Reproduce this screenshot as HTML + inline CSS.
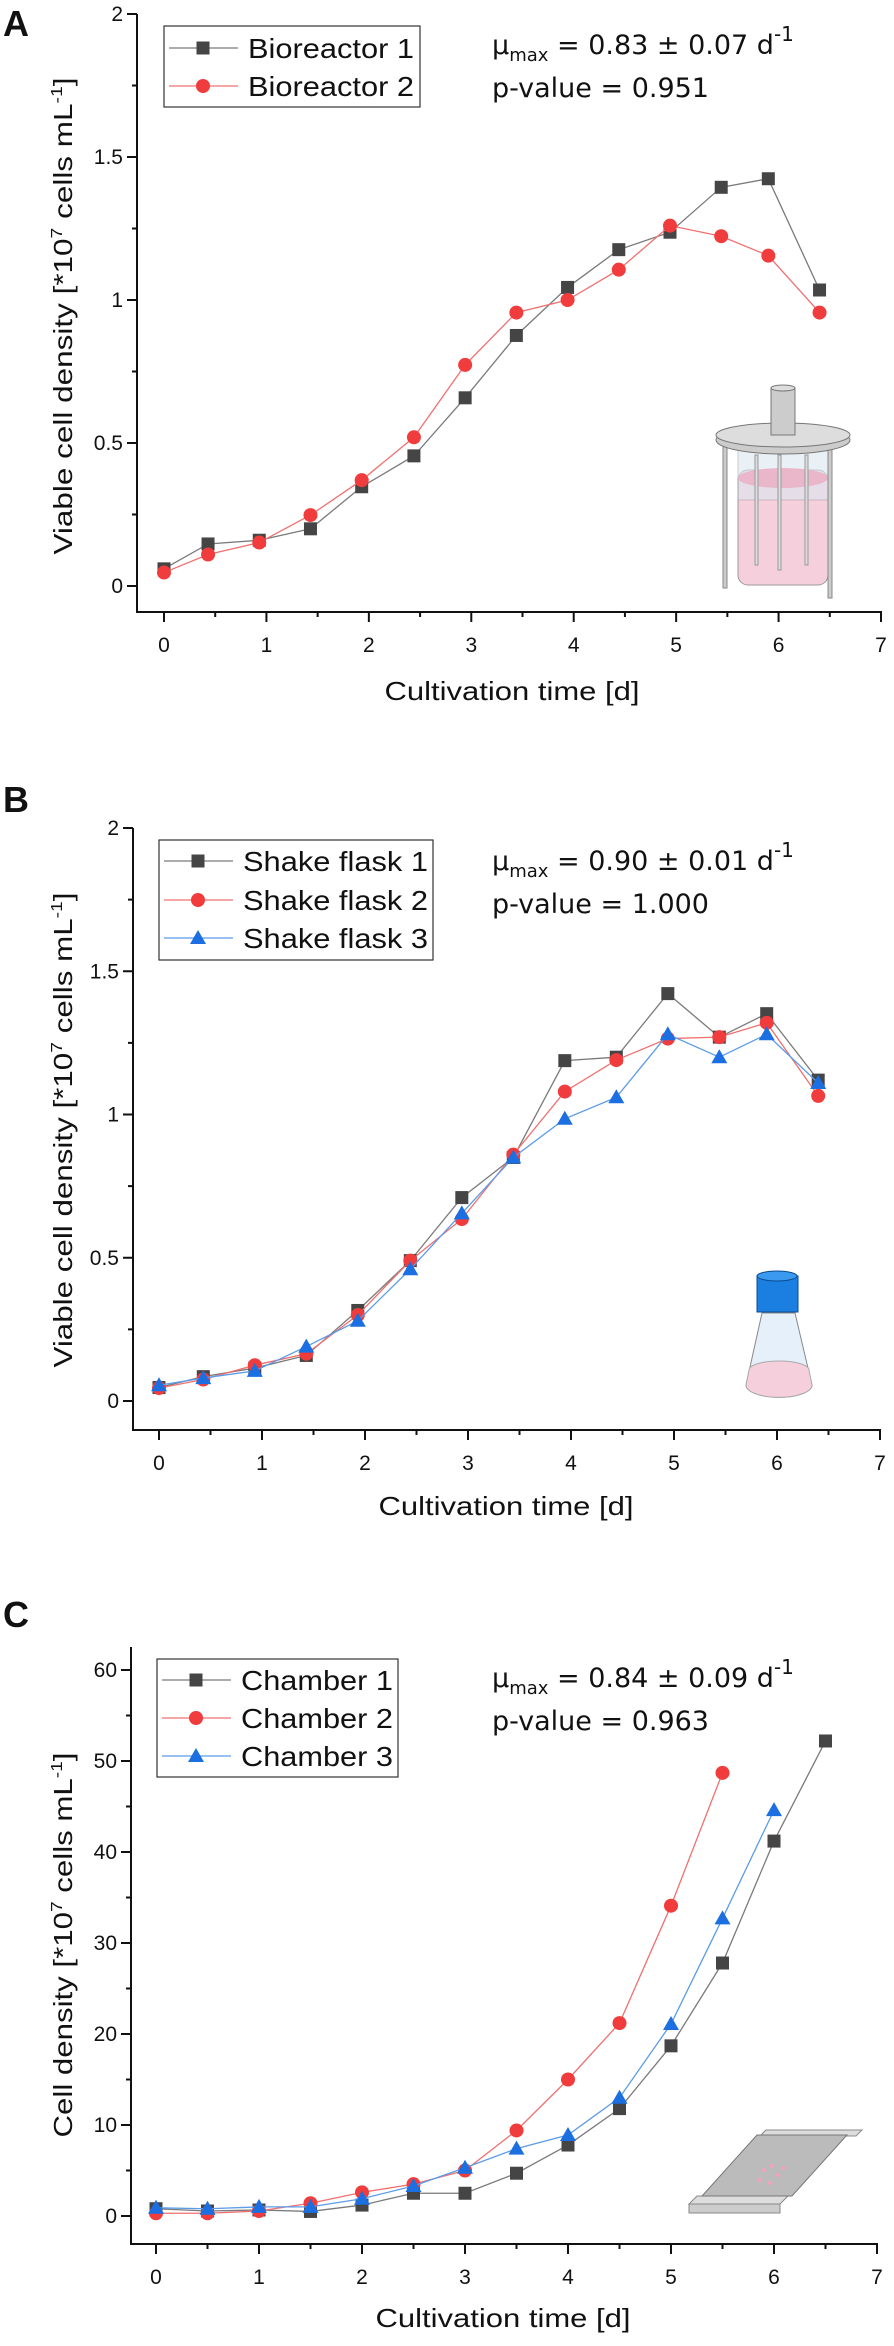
<!DOCTYPE html>
<html><head><meta charset="utf-8"><style>
html,body{margin:0;padding:0;background:#fff;}
svg{display:block;}
text{font-family:"Liberation Sans",Arial,sans-serif;fill:#111;}
.ann{font-family:"DejaVu Sans",sans-serif;}
</style></head><body>
<svg id="fig" width="894" height="2346" viewBox="0 0 894 2346" xmlns="http://www.w3.org/2000/svg">
<!-- illustrations -->
<g>
<rect x="738" y="470" width="90" height="115" rx="10" fill="#f6cfdc" stroke="#999"/>
<rect x="738" y="450" width="90" height="50" fill="#dbe9f3" opacity="0.6" stroke="#aaa"/>
<ellipse cx="783" cy="478" rx="45" ry="10" fill="#eab6c9"/>
<rect x="723" y="440" width="4" height="148" fill="#ccc" stroke="#888"/>
<rect x="828" y="440" width="4" height="158" fill="#ccc" stroke="#888"/>
<rect x="755" y="455" width="3" height="110" fill="#ddd" stroke="#999"/>
<rect x="778" y="455" width="3" height="115" fill="#ddd" stroke="#999"/>
<rect x="805" y="455" width="3" height="110" fill="#ddd" stroke="#999"/>
<ellipse cx="783" cy="440" rx="67" ry="14" fill="#ccc" stroke="#777"/>
<ellipse cx="783" cy="435" rx="67" ry="12" fill="#ddd" stroke="#777"/>
<rect x="771" y="388" width="24" height="47" fill="#ccc" stroke="#777"/>
<ellipse cx="783" cy="388" rx="12" ry="3" fill="#ddd" stroke="#777"/>
</g>
<g>
<path d="M762 1313 L746 1385 A32 12 0 0 0 812 1385 L795 1313 Z" fill="#e6f0fa" stroke="#888"/>
<path d="M749 1370 L746 1385 A32 12 0 0 0 812 1385 L809 1370 A30 9 0 0 0 749 1370 Z" fill="#f6cfdc" stroke="#aaa"/>
<rect x="757" y="1276" width="41" height="36" fill="#1a7fe0" stroke="#0a4a90"/>
<ellipse cx="777" cy="1276" rx="20" ry="5" fill="#3b9af0" stroke="#0a4a90"/>
</g>
<g>
<polygon points="689,2204 780,2204 788,2196 697,2196" fill="#ddd" stroke="#888"/>
<rect x="689" y="2204" width="91" height="9" fill="#ccc" stroke="#888"/>
<polygon points="766,2130 862,2130 856,2136 760,2136" fill="#ddd" stroke="#888"/>
<polygon points="702,2196 792,2196 847,2135 757,2135" fill="#bbb" stroke="#777"/>
<circle cx="764" cy="2170" r="2" fill="#f6a0c0"/><circle cx="772" cy="2166" r="2" fill="#f6a0c0"/>
<circle cx="778" cy="2175" r="2" fill="#f6a0c0"/><circle cx="760" cy="2180" r="2" fill="#f6a0c0"/>
<circle cx="770" cy="2183" r="2" fill="#f6a0c0"/><circle cx="783" cy="2168" r="2" fill="#f6a0c0"/>
</g>
</svg>
<script>
// Panel A data
const xA = [0,0.43,0.93,1.43,1.93,2.44,2.94,3.44,3.94,4.44,4.94,5.44,5.9,6.4];
const bioreactor1 = [0.06,0.147,0.16,0.2,0.347,0.455,0.658,0.876,1.044,1.176,1.237,1.394,1.424,1.035];
const bioreactor2 = [0.047,0.11,0.152,0.248,0.37,0.52,0.773,0.956,1.0,1.106,1.26,1.223,1.155,0.956];
// Panel B data
const xB = [0,0.43,0.93,1.43,1.93,2.44,2.94,3.44,3.94,4.44,4.94,5.44,5.9,6.4];
const flask1 = [0.047,0.085,0.115,0.159,0.316,0.49,0.71,0.85,1.188,1.2,1.422,1.27,1.352,1.12];
const flask2 = [0.045,0.075,0.125,0.165,0.30,0.49,0.635,0.86,1.08,1.19,1.265,1.27,1.32,1.065];
const flask3 = [0.055,0.08,0.105,0.19,0.28,0.46,0.655,0.85,0.985,1.06,1.28,1.20,1.28,1.11];
// Panel C data
const xC1 = [0,0.5,1,1.5,2,2.5,3,3.5,4,4.5,5,5.5,6,6.5];
const chamber1 = [0.8,0.55,0.66,0.5,1.2,2.5,2.5,4.7,7.8,11.8,18.7,27.8,41.2,52.2];
const xC2 = [0,0.5,1,1.5,2,2.5,3,3.5,4,4.5,5,5.5];
const chamber2 = [0.3,0.3,0.55,1.4,2.6,3.5,5.0,9.4,15,21.2,34.1,48.7];
const xC3 = [0,0.5,1,1.5,2,2.5,3,3.5,4,4.5,5,5.5,6];
const chamber3 = [0.9,0.8,1.0,1.0,1.9,3.3,5.3,7.4,8.9,13.0,21.1,32.7,44.6];
const xTicks = [0,1,2,3,4,5,6,7];
const yTicksAB = [0,0.5,1,1.5,2];
const yTickLabelsAB = ["0","0.5","1","1.5","2"];
const yTicksC = [0,10,20,30,40,50,60];
const yTickLabelsC = ["0","10","20","30","40","50","60"];

const NS="http://www.w3.org/2000/svg";
const svg=document.getElementById('fig');
function mk(tag,attrs,parent,txt){const e=document.createElementNS(NS,tag);for(const k in attrs)e.setAttribute(k,attrs[k]);if(txt!==undefined)e.textContent=txt;(parent||svg).appendChild(e);return e;}

const COLORS={sq:{fill:'#454545',line:'#7a7a7a'},ci:{fill:'#f03c3c',line:'#f07070'},tr:{fill:'#1b6fe0',line:'#5b9be8'}};

function marker(g,type,cx,cy){
  let m;
  if(type==='sq') m=mk('rect',{x:cx-6.5,y:cy-6.5,width:13,height:13,fill:COLORS.sq.fill},g);
  else if(type==='ci') m=mk('circle',{cx:cx,cy:cy,r:7,fill:COLORS.ci.fill},g);
  else m=mk('polygon',{points:`${cx},${cy-8} ${cx+8},${cy+6} ${cx-8},${cy+6}`,fill:COLORS.tr.fill},g);
  return m;
}

function panel(P){
  const g=mk('g',{});
  
  
  const sx=v=>P.x0+(P.x7-P.x0)*v/7;
  const sy=v=>P.y0-(P.y0-P.yTop)*(v/P.yMax);
  const lab=mk('text',{x:3,y:P.labelY,'font-size':36,'font-weight':'bold'},g,P.letter);
  
  
  // axes
  const ax=mk('path',{d:`M${P.axX} ${P.axTop} V${P.axY} H${sx(7)+1}`,fill:'none',stroke:'#111','stroke-width':2},g);
  
  
  for(let i=0;i<xTicks.length;i++){
    const t=xTicks[i];
    mk('line',{x1:sx(t),x2:sx(t),y1:P.axY,y2:P.axY+10,stroke:'#111','stroke-width':2},g);
    if(t<7) mk('line',{x1:sx(t+0.5),x2:sx(t+0.5),y1:P.axY,y2:P.axY+5,stroke:'#111','stroke-width':2},g);
    const tl=mk('text',{x:sx(t),y:P.axY+40,'font-size':21,'text-anchor':'middle'},g,String(t));
    
    
  }
  const step=P.yTicks[1]-P.yTicks[0];
  for(let i=0;i<P.yTicks.length;i++){
    const t=P.yTicks[i];
    mk('line',{x1:P.axX-10,x2:P.axX,y1:sy(t),y2:sy(t),stroke:'#111','stroke-width':2},g);
    if(i<P.yTicks.length-1) mk('line',{x1:P.axX-5,x2:P.axX,y1:sy(t+step/2),y2:sy(t+step/2),stroke:'#111','stroke-width':2},g);
    const tl=mk('text',{x:P.axX-14,y:sy(t)+7,'font-size':21,'text-anchor':'end'},g,P.yLabels[i]);
    
    
  }
  const xt=mk('text',{x:P.xTitleX,y:P.xTitleY,'font-size':26,'text-anchor':'middle',textLength:255,lengthAdjust:'spacingAndGlyphs'},g,'Cultivation time [d]');
  
  
  const yt=mk('text',{transform:`translate(72,${P.yTitleC}) rotate(-90)`,'font-size':26,'text-anchor':'middle',textLength:P.yTitleLen,lengthAdjust:'spacingAndGlyphs'},g);
  
  
  yt.innerHTML=P.yTitle+' [*10<tspan dy="-10" font-size="16">7</tspan><tspan dy="10"> cells mL</tspan><tspan dy="-10" font-size="16">-1</tspan><tspan dy="10">]</tspan>';
  // series
  P.series.forEach((s,si)=>{
    const sg=mk('g',{},g);
    
    
    const pts=s.xs.map((x,i)=>sx(x)+','+sy(s.ys[i])).join(' ');
    mk('polyline',{points:pts,fill:'none',stroke:COLORS[s.type].line,'stroke-width':1.3},sg);
    s.xs.forEach((x,i)=>{
      const m=marker(sg,s.type,sx(x),sy(s.ys[i]));
      
      
    });
  });
  // legend
  const lg=mk('g',{},g);
  
  
  mk('rect',{x:P.leg.x,y:P.leg.y,width:P.leg.w,height:P.leg.h,fill:'#fff',stroke:'#333','stroke-width':1.2},lg);
  P.series.forEach((s,i)=>{
    const cy=P.leg.rows[i];
    const le=mk('g',{},lg);
    
    
    mk('line',{x1:P.leg.x+5,x2:P.leg.x+74,y1:cy,y2:cy,stroke:COLORS[s.type].line,'stroke-width':1.3},le);
    marker(le,s.type,P.leg.x+39,cy);
    mk('text',{x:P.leg.x+84,y:cy+10,'font-size':28,textLength:P.leg.tl,lengthAdjust:'spacingAndGlyphs'},le,s.label);
  });
  // annotation
  const an=mk('text',{x:492,y:P.annY,'font-size':27,'class':'ann'},g);
  
  
  an.innerHTML='μ<tspan dy="7" font-size="18">max</tspan><tspan dy="-7"> = '+P.mu+' d</tspan><tspan dy="-13" font-size="20">-1</tspan>';
  const pv=mk('text',{x:492,y:P.annY+43,'font-size':27,'class':'ann'},g,'p-value = '+P.p);
  
  
}

panel({name:'panel-a-bioreactor',letter:'A',labelY:36,x0:164,x7:881,axX:137,axTop:14,axY:612,y0:586,yTop:14,yMax:2,
  yTicks:yTicksAB,yLabels:yTickLabelsAB,xTitleX:512,xTitleY:700,yTitle:'Viable cell density',yTitleC:316,yTitleLen:477,
  series:[{label:'Bioreactor 1',type:'sq',xs:xA,ys:bioreactor1},{label:'Bioreactor 2',type:'ci',xs:xA,ys:bioreactor2}],
  leg:{x:164,y:26,w:256,h:81,rows:[48,86],tl:166},annY:54,mu:'0.83 ± 0.07',p:'0.951'});

panel({name:'panel-b-shake-flask',letter:'B',labelY:812,x0:159,x7:880,axX:133,axTop:828,axY:1430,y0:1401,yTop:828,yMax:2,
  yTicks:yTicksAB,yLabels:yTickLabelsAB,xTitleX:506,xTitleY:1515,yTitle:'Viable cell density',yTitleC:1130,yTitleLen:475,
  series:[{label:'Shake flask 1',type:'sq',xs:xB,ys:flask1},{label:'Shake flask 2',type:'ci',xs:xB,ys:flask2},{label:'Shake flask 3',type:'tr',xs:xB,ys:flask3}],
  leg:{x:159,y:840,w:274,h:120,rows:[861,900,938],tl:185},annY:870,mu:'0.90 ± 0.01',p:'1.000'});

panel({name:'panel-c-chamber',letter:'C',labelY:1627,x0:156,x7:877,axX:131,axTop:1647,axY:2244,y0:2216,yTop:1670,yMax:60,
  yTicks:yTicksC,yLabels:yTickLabelsC,xTitleX:503,xTitleY:2327,yTitle:'Cell density',yTitleC:1945,yTitleLen:385,
  series:[{label:'Chamber 1',type:'sq',xs:xC1,ys:chamber1},{label:'Chamber 2',type:'ci',xs:xC2,ys:chamber2},{label:'Chamber 3',type:'tr',xs:xC3,ys:chamber3}],
  leg:{x:157,y:1659,w:241,h:118,rows:[1680,1718,1756],tl:152},annY:1687,mu:'0.84 ± 0.09',p:'0.963'});
</script>
</body></html>
